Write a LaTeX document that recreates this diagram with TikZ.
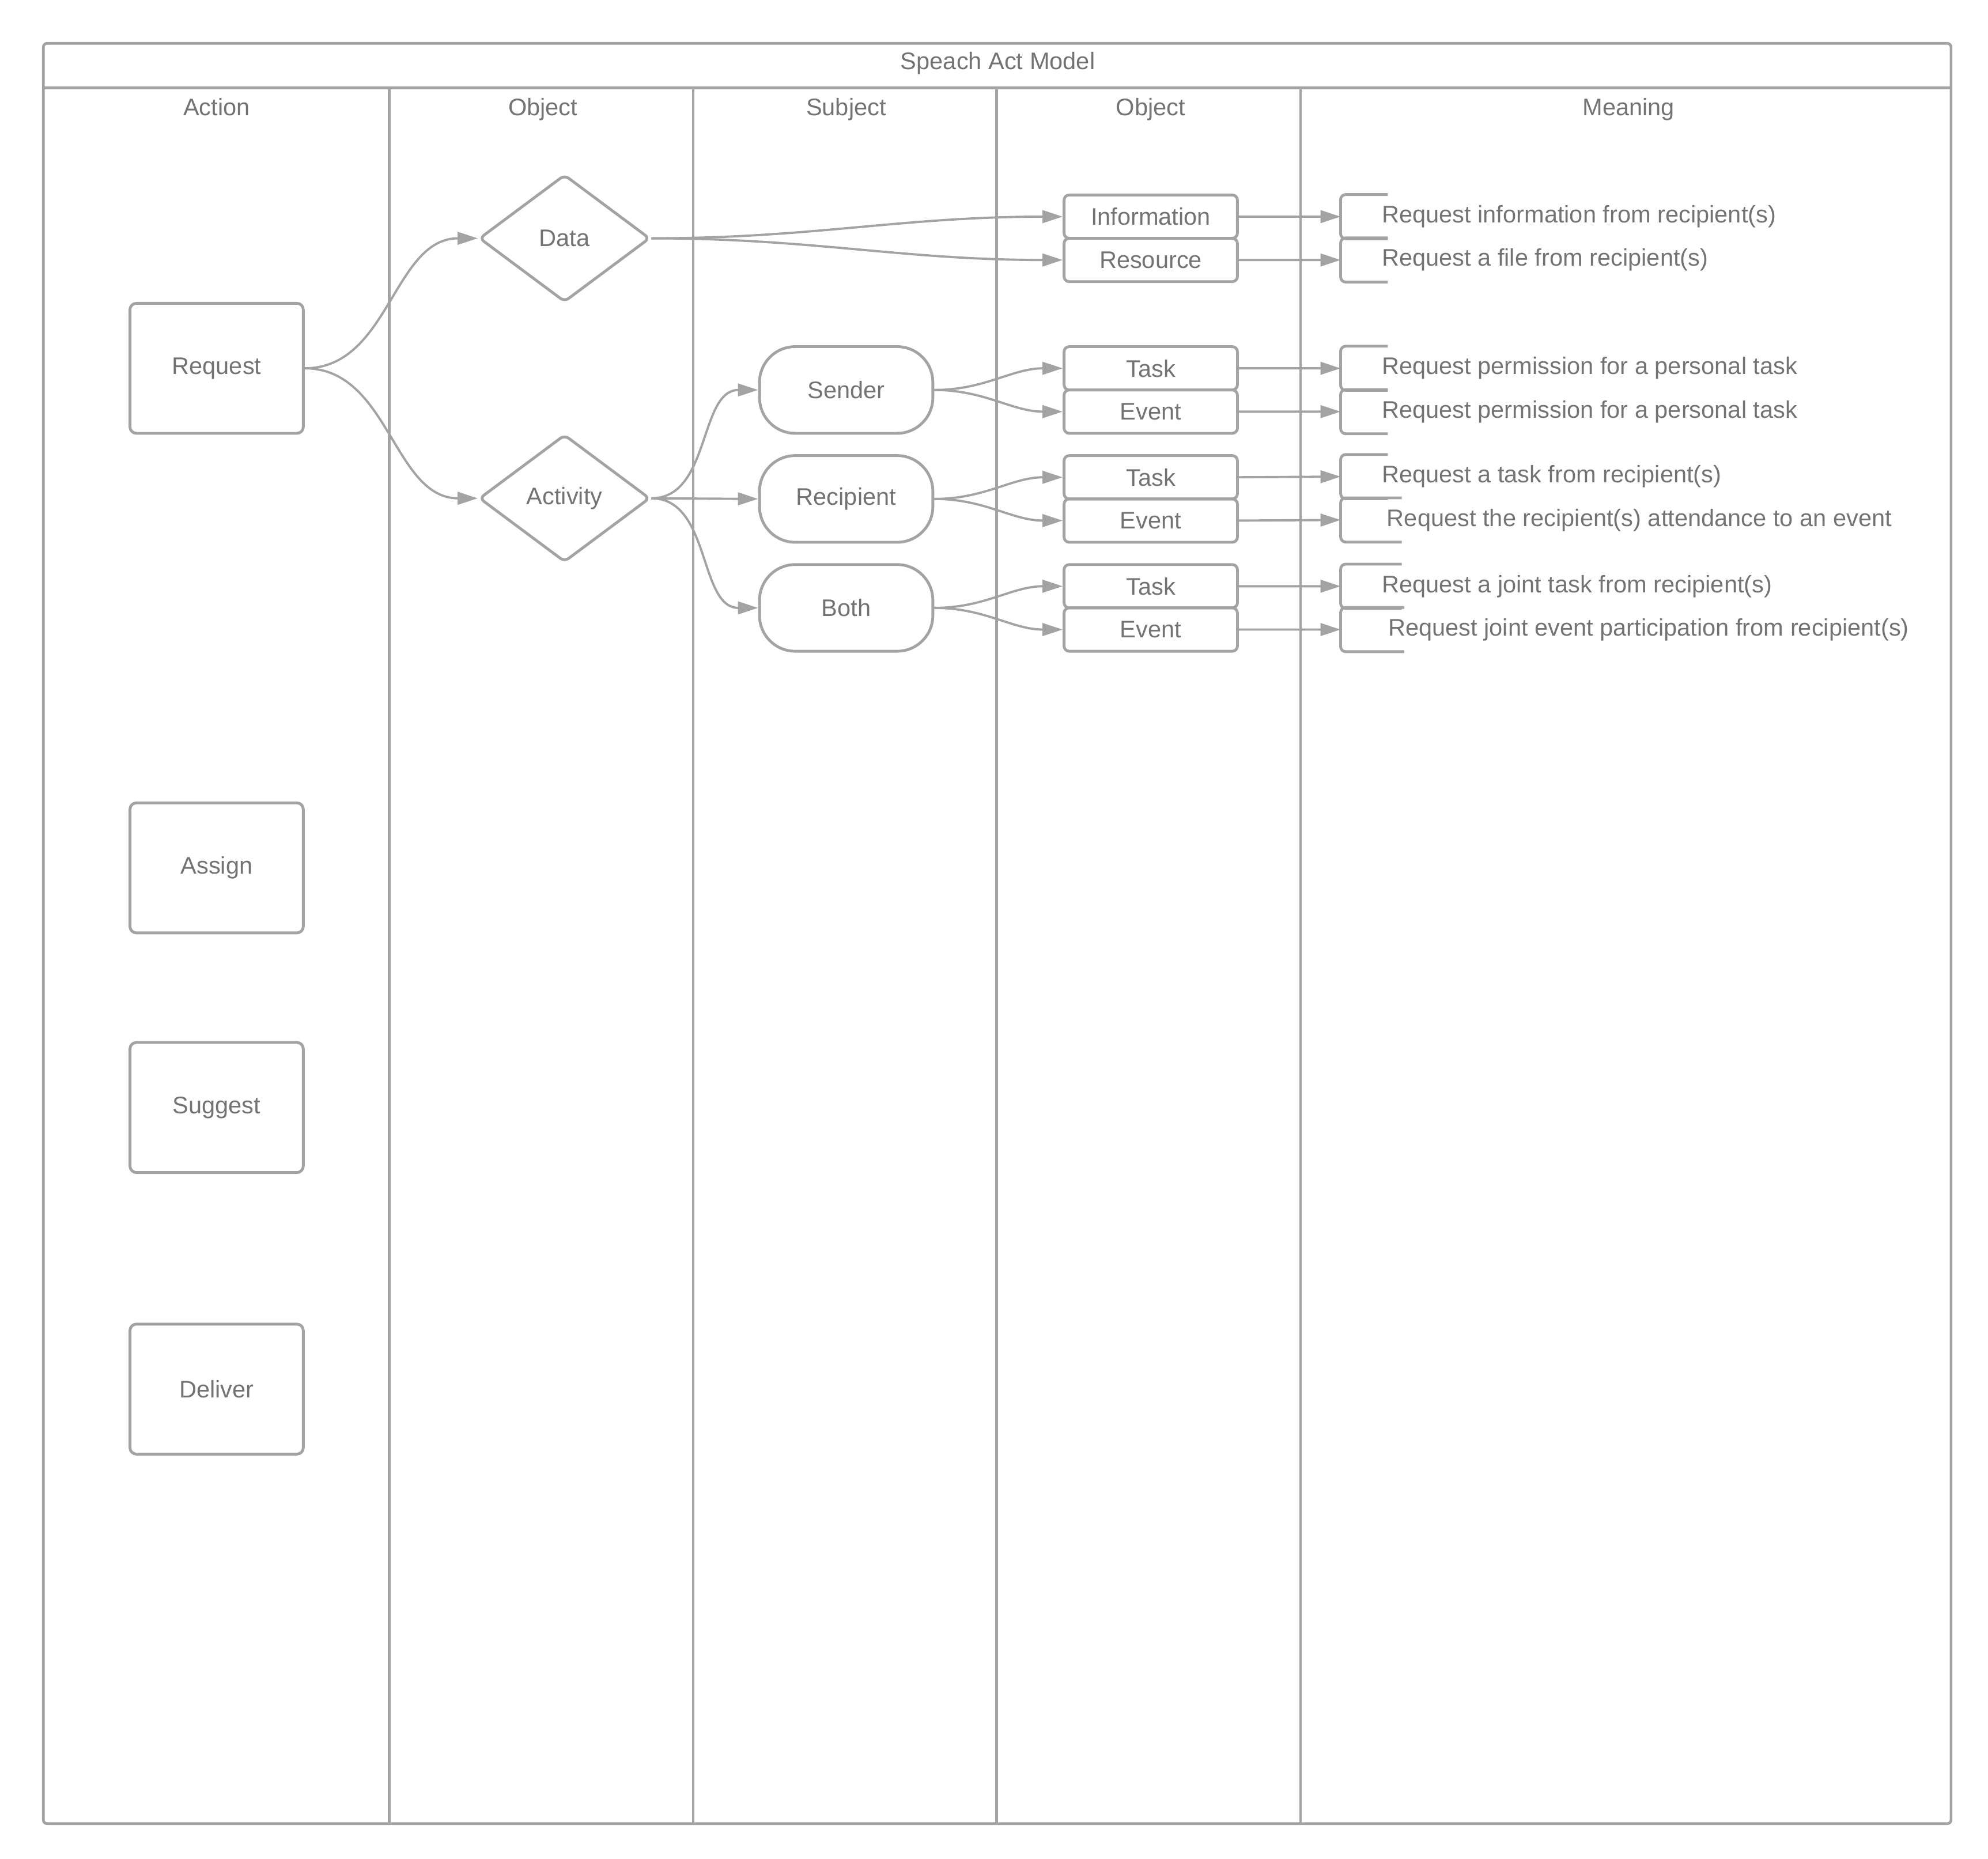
\documentclass[tikz,border=0pt]{standalone}
\usepackage{fontspec}
\setmainfont{Liberation Sans}
\usetikzlibrary{shapes.geometric,arrows.meta}

\definecolor{linegray}{RGB}{163,163,163}
\definecolor{textgray}{RGB}{115,115,115}

\tikzstyle{lane} = [draw=linegray, line width=1.2pt]
\tikzstyle{header} = [text height=1.6ex, text depth=0.4ex]
\tikzstyle{action} = [rectangle, rounded corners=1mm, 
minimum width=27.2mm, 
minimum height=20.4mm,
text centered, 
draw=linegray, 
line width=1.25pt]
\tikzstyle{choice} = [diamond, rounded corners=0.8mm, 
minimum width=26.8mm, 
minimum height=20mm,
inner sep=0pt,
text centered, 
draw=linegray, 
line width=1.25pt]
\tikzstyle{subject} = [rectangle, rounded corners=5.6mm, 
minimum width=27.2mm, 
minimum height=13.6mm,
text centered, 
draw=linegray, 
line width=1.25pt]
\tikzstyle{kind} = [rectangle, rounded corners=0.8mm, 
minimum width=27.2mm, 
minimum height=6.8mm,
inner sep=0pt,
text centered, 
draw=linegray, 
line width=1.25pt]
\tikzstyle{meaning} = [rectangle, anchor=west, 
minimum height=6.8mm,
inner xsep=6.4mm,
inner ysep=0pt]
\tikzstyle{bracket} = [draw=linegray, line width=1.25pt, rounded corners=0.8mm]
\tikzstyle{link} = [->, draw=linegray, line width=1pt]

\begin{document}
\begin{tikzpicture}[x=0.2mm, y=-0.2mm, node distance=17.1mm,
  font=\fontsize{10.7}{12.8}\selectfont, text=textgray,
  >={Triangle[length=9pt,width=5.6pt]}]
\useasboundingbox (0,0) rectangle (1560,1458.3);

% swimlanes
\draw [lane, rounded corners=0.6mm] (34,34) rectangle (1531,1431);
\draw [lane] (34,69) -- (1531,69);
\draw [lane] (305.5,69) -- (305.5,1431);
\draw [lane] (544,69) -- (544,1431);
\draw [lane] (782,69) -- (782,1431);
\draw [lane] (1020.5,69) -- (1020.5,1431);

\node (title) [header] at (783,49) {Speach Act Model};
\node (h action) [header] at (170,85) {Action};
\node (h object) [header] at (426,85) {Object};
\node (h subject) [header] at (664,85) {Subject};
\node (h kind) [header] at (903,85) {Object};
\node (h meaning) [header] at (1278,85) {Meaning};

\node (request) [action] at (170,289) {Request};
\node (assign) [action, below of=request, yshift=-61.3mm] {Assign};
\node (suggest) [action, below of=assign, yshift=-20.5mm] {Suggest};
\node (deliver) [action, below of=suggest, yshift=-27.1mm] {Deliver};

\node (data) [choice] at (443,187) {Data};
\node (activity) [choice, below of=data, yshift=-23.7mm] {Activity};

\node (sender) [subject] at (664,306) {Sender};
\node (recipient) [subject, below of=sender] {Recipient};
\node (both) [subject, below of=recipient] {Both};

\node (info) [kind] at (903,170) {Information};
\node (resource) [kind, below of=info, yshift=10.3mm] {Resource};
\node (task s) [kind, right of=sender, xshift=30.7mm, yshift=3.4mm] {Task};
\node (event s) [kind, right of=sender, xshift=30.7mm, yshift=-3.4mm] {Event};
\node (task r) [kind, right of=recipient, xshift=30.7mm, yshift=3.4mm] {Task};
\node (event r) [kind, right of=recipient, xshift=30.7mm, yshift=-3.4mm] {Event};
\node (task b) [kind, right of=both, xshift=30.7mm, yshift=3.4mm] {Task};
\node (event b) [kind, right of=both, xshift=30.7mm, yshift=-3.4mm] {Event};

\node (m info) [meaning] at (1052,170) {Request information from recipient(s)};
\node (m resource) [meaning] at (1052,204) {Request a file from recipient(s)};
\node (m task s) [meaning] at (1052,289) {Request permission for a personal task};
\node (m event s) [meaning] at (1052,323) {Request permission for a personal task};
\node (m task r) [meaning] at (1052,374) {Request a task from recipient(s)};
\node (m event r) [meaning, inner xsep=7.2mm] at (1052,408) {Request the recipient(s) attendance to an event};
\node (m task b) [meaning] at (1052,460) {Request a joint task from recipient(s)};
\node (m event b) [meaning, inner xsep=7.4mm] at (1052,494) {Request joint event participation from recipient(s)};

\draw [bracket] ([xshift=7.4mm]m info.north west) -- (m info.north west) -- (m info.south west) -- ([xshift=7.4mm]m info.south west);
\draw [bracket] ([xshift=7.4mm]m resource.north west) -- (m resource.north west) -- (m resource.south west) -- ([xshift=7.4mm]m resource.south west);
\draw [bracket] ([xshift=7.4mm]m task s.north west) -- (m task s.north west) -- (m task s.south west) -- ([xshift=7.4mm]m task s.south west);
\draw [bracket] ([xshift=7.4mm]m event s.north west) -- (m event s.north west) -- (m event s.south west) -- ([xshift=7.4mm]m event s.south west);
\draw [bracket] ([xshift=7.4mm]m task r.north west) -- (m task r.north west) -- (m task r.south west) -- ([xshift=7.4mm]m task r.south west);
\draw [bracket] ([xshift=9.6mm]m event r.north west) -- (m event r.north west) -- (m event r.south west) -- ([xshift=9.6mm]m event r.south west);
\draw [bracket] ([xshift=9.6mm]m task b.north west) -- (m task b.north west) -- (m task b.south west) -- ([xshift=9.6mm]m task b.south west);
\draw [bracket] ([xshift=10mm]m event b.north west) -- (m event b.north west) -- (m event b.south west) -- ([xshift=10mm]m event b.south west);

\draw [link] (request.east) to [out=0, in=180] (data.west);
\draw [link] (request.east) to [out=0, in=180] (activity.west);
\draw [link] (data.east) to [out=0, in=180] (info.west);
\draw [link] (data.east) to [out=0, in=180] (resource.west);
\draw [link] (activity.east) to [out=0, in=180] (sender.west);
\draw [link] (activity.east) -- (recipient.west);
\draw [link] (activity.east) to [out=0, in=180] (both.west);
\draw [link] (sender.east) to [out=0, in=180] (task s.west);
\draw [link] (sender.east) to [out=0, in=180] (event s.west);
\draw [link] (recipient.east) to [out=0, in=180] (task r.west);
\draw [link] (recipient.east) to [out=0, in=180] (event r.west);
\draw [link] (both.east) to [out=0, in=180] (task b.west);
\draw [link] (both.east) to [out=0, in=180] (event b.west);

\draw [link] (info.east) -- (m info.west);
\draw [link] (resource.east) -- (m resource.west);
\draw [link] (task s.east) -- (m task s.west);
\draw [link] (event s.east) -- (m event s.west);
\draw [link] (task r.east) -- (m task r.west);
\draw [link] (event r.east) -- (m event r.west);
\draw [link] (task b.east) -- (m task b.west);
\draw [link] (event b.east) -- (m event b.west);
\end{tikzpicture}
\end{document}
